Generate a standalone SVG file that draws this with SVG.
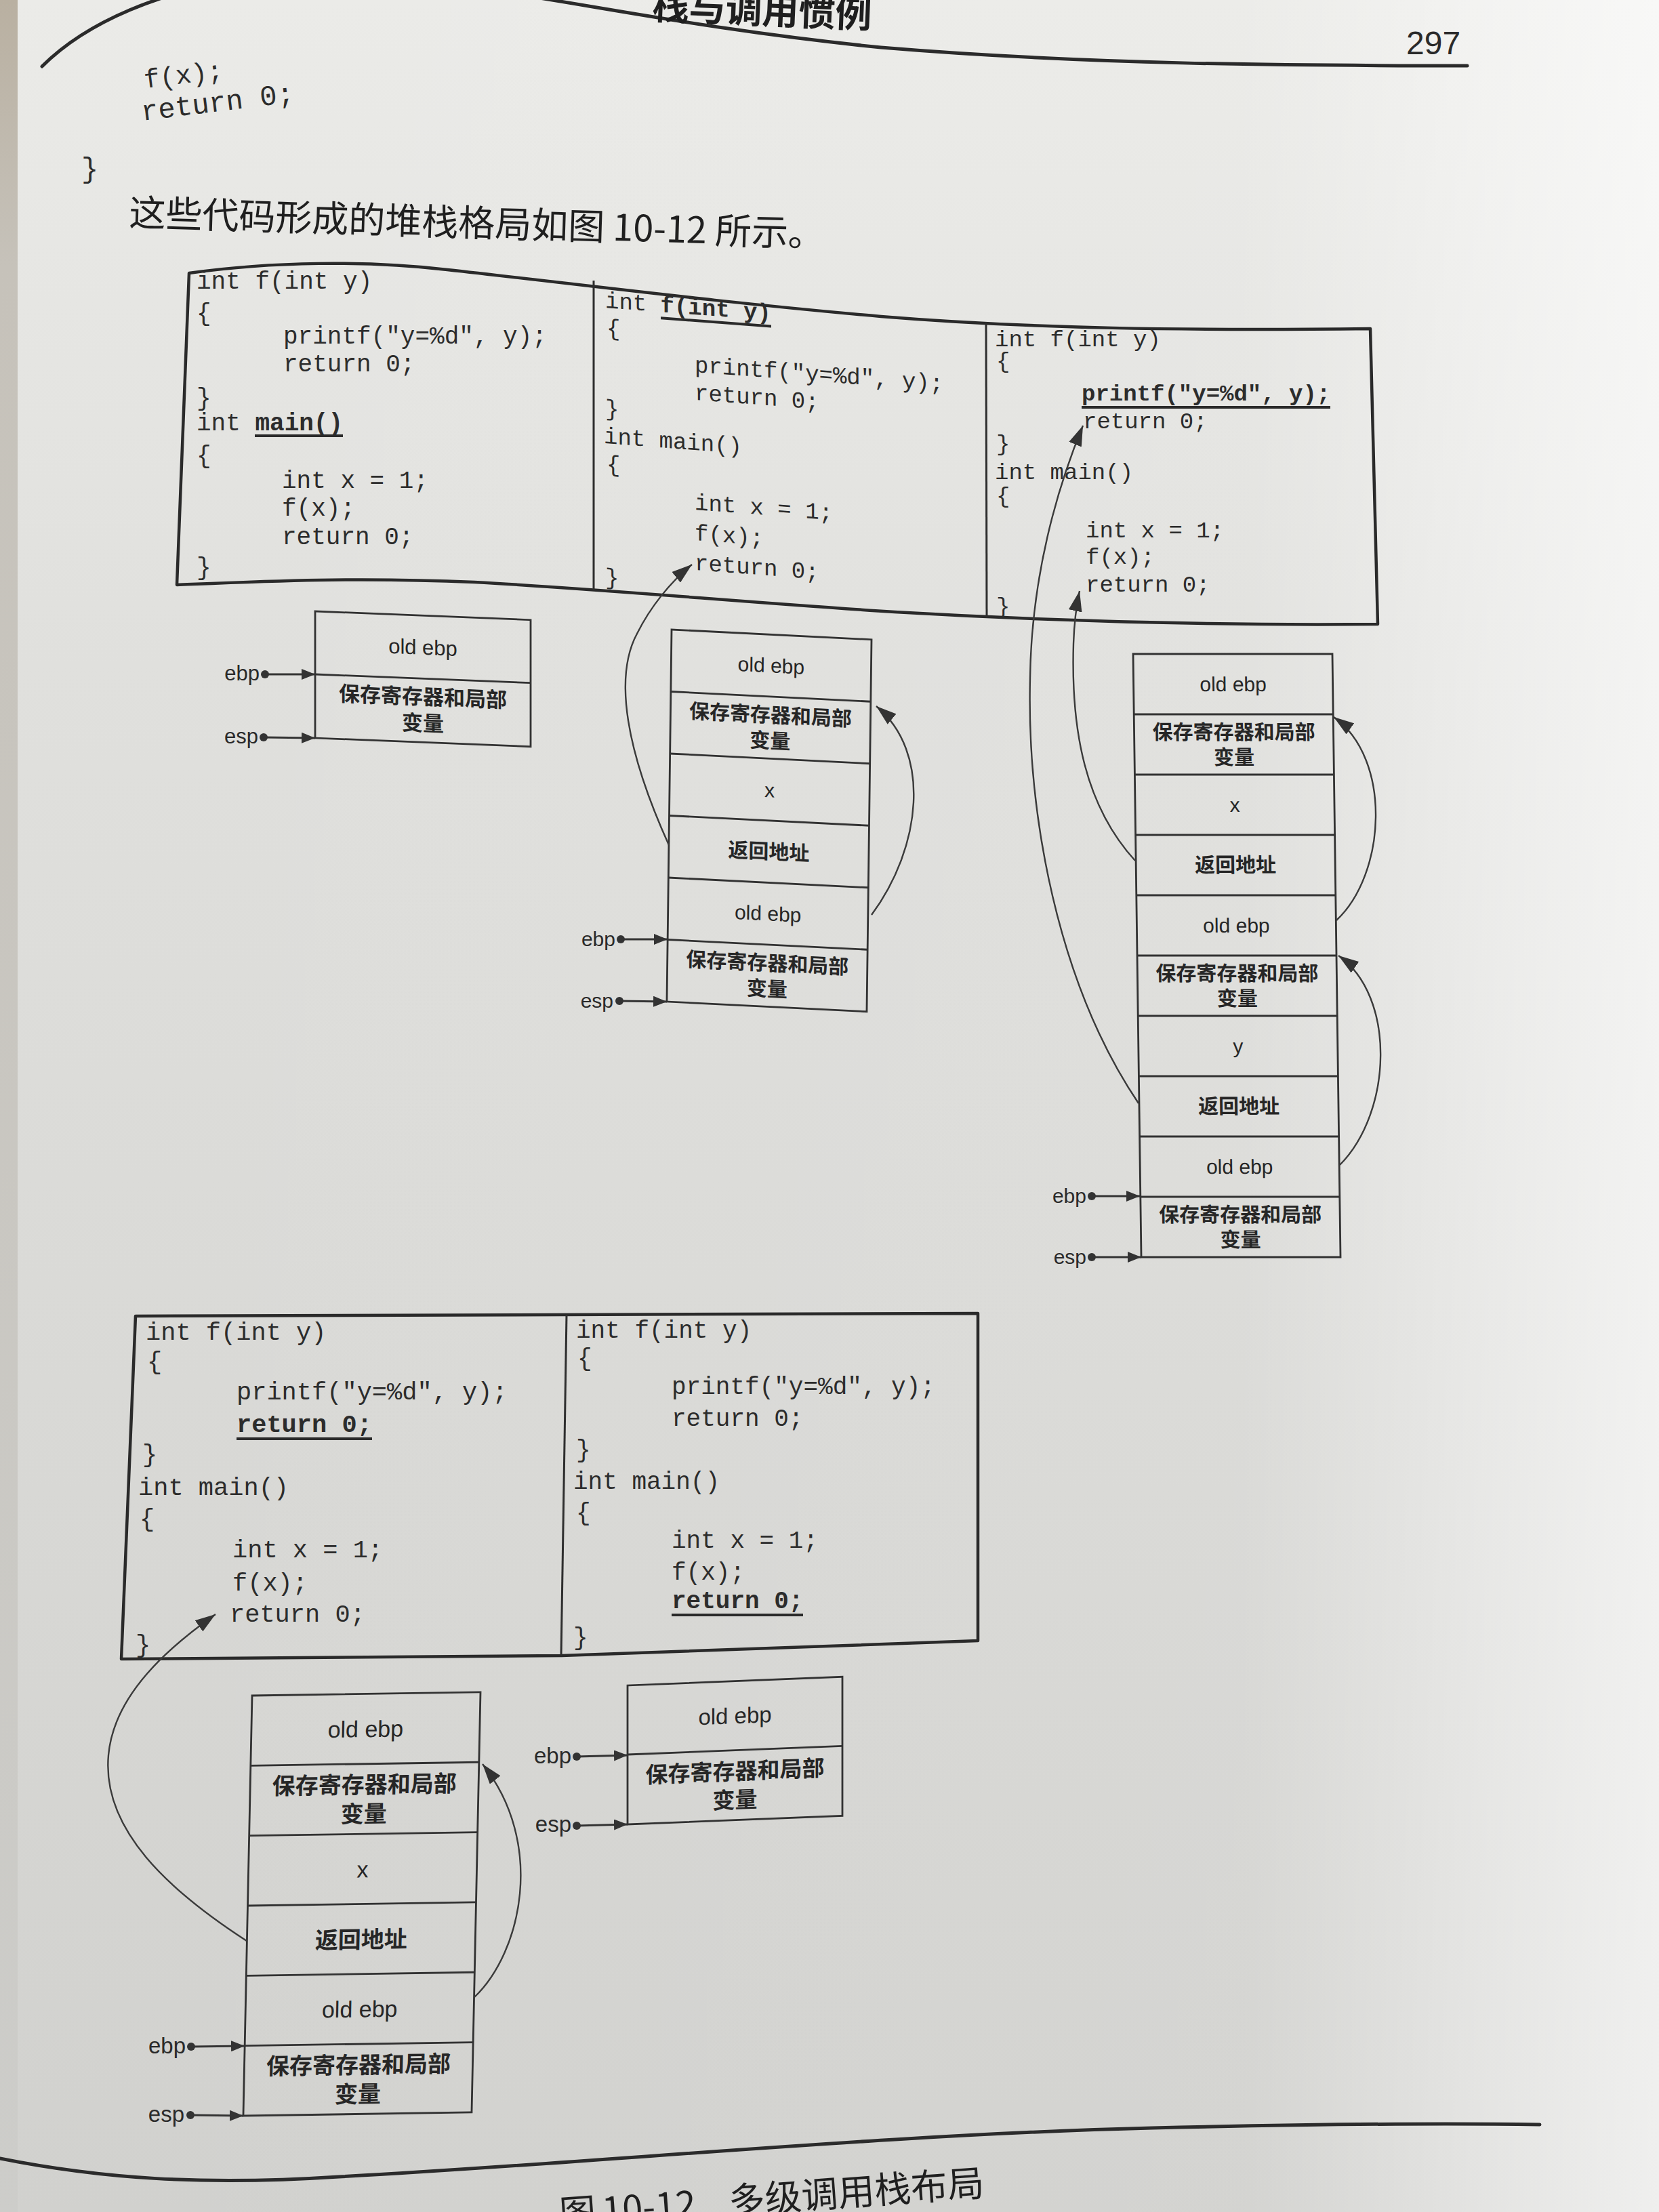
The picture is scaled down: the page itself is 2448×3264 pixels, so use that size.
<svg xmlns="http://www.w3.org/2000/svg" width="2448" height="3264" viewBox="0 0 2448 3264">
  <defs>
    <linearGradient id="paper" x1="0" y1="0" x2="0" y2="1">
      <stop offset="0" stop-color="#ebebe8"/>
      <stop offset="0.3" stop-color="#e0e0dd"/>
      <stop offset="1" stop-color="#d1d1ce"/>
    </linearGradient>
    <linearGradient id="glare" x1="0" y1="0" x2="1" y2="0">
      <stop offset="0" stop-color="#ffffff" stop-opacity="0"/>
      <stop offset="0.75" stop-color="#ffffff" stop-opacity="0.06"/>
      <stop offset="0.91" stop-color="#ffffff" stop-opacity="0.45"/>
      <stop offset="1" stop-color="#ffffff" stop-opacity="0.65"/>
    </linearGradient>
    <linearGradient id="edge" x1="0" y1="0" x2="0" y2="1">
      <stop offset="0" stop-color="#b9b0a1"/>
      <stop offset="0.12" stop-color="#c6c2ba"/>
      <stop offset="1" stop-color="#cdcdca"/>
    </linearGradient>
    <marker id="ah" viewBox="0 0 30 20" refX="30" refY="10" markerWidth="30" markerHeight="20" markerUnits="userSpaceOnUse" orient="auto">
      <path d="M0,0 L30,10 L0,20 Z" fill="#333"/>
    </marker>
    <marker id="ahs" viewBox="0 0 20 16" refX="20" refY="8" markerWidth="20" markerHeight="16" markerUnits="userSpaceOnUse" orient="auto">
      <path d="M0,0 L20,8 L0,16 Z" fill="#333"/>
    </marker>
    <style>
      .code { font-family: "Liberation Mono", "DejaVu Sans Mono", monospace; fill: #2c2c2c; }
      .b { font-weight: bold; }
      .ul { stroke: #2a2a2a; stroke-width: 4; }
      .body { font-family: "Noto Sans CJK SC", "Liberation Sans", sans-serif; fill: #1f1f1f; }
      .lbl { font-family: "Liberation Sans", "Noto Sans CJK SC", sans-serif; fill: #262626; text-anchor: middle; }
      .cjk { font-family: "Noto Sans CJK SC", sans-serif; font-weight: 700; }
      .frame { fill: none; stroke: #2a2a2a; stroke-width: 4.5; stroke-linejoin: round; }
      .rule { fill: none; stroke: #2e2e2e; stroke-width: 3; }
      .box { fill: none; stroke: #323232; stroke-width: 2.8; }
      .conn { fill: none; stroke: #3a3a3a; stroke-width: 2.4; }
      .ptr { stroke: #333; stroke-width: 2.8; }
      .dot { fill: #333; }
      .reg { font-family: "Liberation Sans", sans-serif; fill: #2a2a2a; text-anchor: end; }
      .pagerule { fill: none; stroke: #2b2b2b; stroke-width: 5; stroke-linecap: round; }
    </style>
  </defs>

  <!-- paper -->
  <rect width="2448" height="3264" fill="url(#paper)"/>
  <rect width="2448" height="3264" fill="url(#glare)"/>
  <rect x="0" y="0" width="26" height="3264" fill="url(#edge)"/>

  <!-- running head -->
  <g id="running-head">
    <path class="pagerule" d="M62,98 C 120,40 230,-20 420,-40 C 700,-40 900,30 1300,70 C 1600,95 1900,97 2165,97"/>
    <text class="body" x="962" y="28" font-size="54" font-weight="bold" transform="rotate(2.4 962 28)">栈与调用惯例</text>
    <text x="2075" y="80" font-family="Liberation Sans, sans-serif" font-size="48" fill="#2a2a2a">297</text>
  </g>

  <!-- tail of the listing and the lead-in sentence -->
  <g id="lead-in">
    <text class="code" x="214" y="130" font-size="39" transform="rotate(-7 214 130)">f(x);</text>
    <text class="code" x="210" y="178" font-size="42" transform="rotate(-7 210 178)">return 0;</text>
    <text class="code" x="120" y="262" font-size="42">}</text>
    <text class="body" x="190" y="333" font-size="54" transform="rotate(1.75 190 333)">这些代码形成的堆栈格局如图 10-12 所示。</text>
  </g>

  <!-- upper code strip: three snapshots of the program -->
  <g id="code-frame-top">
    <path class="frame" d="M279,403 C 400,386 540,384 660,398 C 860,420 1050,445 1300,467 C 1520,485 1750,488 2022,485 L 2033,921 C 1800,923 1560,917 1320,903 C 1100,889 900,870 700,859 C 520,851 380,858 261,863 Z"/>
    <path class="rule" d="M876,414 L876,871"/>
    <path class="rule" d="M1455,475 L1456,912"/>

    <g id="code-1" class="code" font-size="36">
      <text x="290" y="426">int f(int y)</text>
      <text x="290" y="473">{</text>
      <text x="418" y="507">printf("y=%d", y);</text>
      <text x="418" y="548">return 0;</text>
      <text x="290" y="598">}</text>
      <text x="290" y="635">int <tspan class="b">main()</tspan></text>
      <line class="ul" x1="376" y1="643" x2="506" y2="643"/>
      <text x="290" y="683">{</text>
      <text x="416" y="720">int x = 1;</text>
      <text x="416" y="761">f(x);</text>
      <text x="416" y="803">return 0;</text>
      <text x="290" y="848">}</text>
    </g>

    <g id="code-2" class="code" font-size="34" transform="translate(893 0) skewY(4.3) translate(-893 0)">
      <text x="893" y="454">int <tspan class="b">f(int y)</tspan></text>
      <line class="ul" x1="975" y1="463" x2="1138" y2="463"/>
      <text x="895" y="494">{</text>
      <text x="1025" y="539">printf("y=%d", y);</text>
      <text x="1025" y="580">return 0;</text>
      <text x="893" y="613">}</text>
      <text x="891" y="654">int main()</text>
      <text x="895" y="695">{</text>
      <text x="1025" y="742">int x = 1;</text>
      <text x="1025" y="787">f(x);</text>
      <text x="1025" y="831">return 0;</text>
      <text x="893" y="862">}</text>
    </g>

    <g id="code-3" class="code" font-size="34">
      <text x="1468" y="511">int f(int y)</text>
      <text x="1470" y="543">{</text>
      <text x="1596" y="591" class="b">printf("y=%d", y);</text>
      <line class="ul" x1="1596" y1="601" x2="1963" y2="601"/>
      <text x="1598" y="632">return 0;</text>
      <text x="1470" y="665">}</text>
      <text x="1468" y="707">int main()</text>
      <text x="1470" y="742">{</text>
      <text x="1602" y="793">int x = 1;</text>
      <text x="1602" y="832">f(x);</text>
      <text x="1602" y="873">return 0;</text>
      <text x="1470" y="905">}</text>
    </g>
  </g>

  <!-- lower code strip: two snapshots -->
  <g id="code-frame-bottom">
    <path class="frame" d="M200,1942 L1443,1938 L1443,2421 L829,2443 L179,2448 Z"/>
    <path class="rule" d="M836,1940 L828,2443"/>

    <g id="code-4" class="code" font-size="37">
      <text x="215" y="1977">int f(int y)</text>
      <text x="217" y="2020">{</text>
      <text x="349" y="2065">printf("y=%d", y);</text>
      <text x="349" y="2113" class="b">return 0;</text>
      <line class="ul" x1="349" y1="2123" x2="549" y2="2123"/>
      <text x="210" y="2157">}</text>
      <text x="204" y="2206">int main()</text>
      <text x="206" y="2252">{</text>
      <text x="343" y="2298">int x = 1;</text>
      <text x="343" y="2347">f(x);</text>
      <text x="339" y="2393">return 0;</text>
      <text x="200" y="2438">}</text>
    </g>

    <g id="code-5" class="code" font-size="36">
      <text x="850" y="1974">int f(int y)</text>
      <text x="852" y="2015">{</text>
      <text x="991" y="2057">printf("y=%d", y);</text>
      <text x="991" y="2104">return 0;</text>
      <text x="850" y="2150">}</text>
      <text x="846" y="2197">int main()</text>
      <text x="850" y="2243">{</text>
      <text x="991" y="2284">int x = 1;</text>
      <text x="991" y="2331">f(x);</text>
      <text x="991" y="2373" class="b">return 0;</text>
      <line class="ul" x1="991" y1="2383" x2="1185" y2="2383"/>
      <text x="846" y="2427">}</text>
    </g>
  </g>

  <!-- stack frames -->
  <g id="stack-a" font-size="31" transform="matrix(1 0.04 0 1 465 902)">
    <rect class="box" width="318" height="187"/>
    <line class="box" x1="0" y1="93" x2="318" y2="93"/>
    <text class="lbl" x="159" y="57.5">old ebp</text>
    <text class="lbl cjk" x="159" y="131">保存寄存器和局部</text>
    <text class="lbl cjk" x="159" y="170">变量</text>
  </g>

  <g id="stack-b" font-size="30" transform="matrix(1 0.05 -0.0128 1 991 929)">
    <rect class="box" width="295" height="549"/>
    <line class="box" x1="0" y1="91.5" x2="295" y2="91.5"/>
    <line class="box" x1="0" y1="183" x2="295" y2="183"/>
    <line class="box" x1="0" y1="274.5" x2="295" y2="274.5"/>
    <line class="box" x1="0" y1="366" x2="295" y2="366"/>
    <line class="box" x1="0" y1="457.5" x2="295" y2="457.5"/>
    <text class="lbl" x="147.5" y="56">old ebp</text>
    <text class="lbl cjk" x="147.5" y="129.5">保存寄存器和局部</text>
    <text class="lbl cjk" x="147.5" y="167.5">变量</text>
    <text class="lbl" x="147.5" y="240">x</text>
    <text class="lbl cjk" x="147.5" y="331">返回地址</text>
    <text class="lbl" x="147.5" y="422">old ebp</text>
    <text class="lbl cjk" x="147.5" y="495.5">保存寄存器和局部</text>
    <text class="lbl cjk" x="147.5" y="533.5">变量</text>
  </g>

  <g id="stack-c" font-size="30" transform="matrix(1 0 0.0135 1 1672 965)">
    <rect class="box" width="294" height="890"/>
    <line class="box" x1="0" y1="89" x2="294" y2="89"/>
    <line class="box" x1="0" y1="178" x2="294" y2="178"/>
    <line class="box" x1="0" y1="267" x2="294" y2="267"/>
    <line class="box" x1="0" y1="356" x2="294" y2="356"/>
    <line class="box" x1="0" y1="445" x2="294" y2="445"/>
    <line class="box" x1="0" y1="534" x2="294" y2="534"/>
    <line class="box" x1="0" y1="623" x2="294" y2="623"/>
    <line class="box" x1="0" y1="712" x2="294" y2="712"/>
    <line class="box" x1="0" y1="801" x2="294" y2="801"/>
    <text class="lbl" x="147" y="55">old ebp</text>
    <text class="lbl cjk" x="147" y="126">保存寄存器和局部</text>
    <text class="lbl cjk" x="147" y="163">变量</text>
    <text class="lbl" x="147" y="233.5">x</text>
    <text class="lbl cjk" x="147" y="322.5">返回地址</text>
    <text class="lbl" x="147" y="411">old ebp</text>
    <text class="lbl cjk" x="147" y="482">保存寄存器和局部</text>
    <text class="lbl cjk" x="147" y="519">变量</text>
    <text class="lbl" x="147" y="589.5">y</text>
    <text class="lbl cjk" x="147" y="678.5">返回地址</text>
    <text class="lbl" x="147" y="767">old ebp</text>
    <text class="lbl cjk" x="147" y="838">保存寄存器和局部</text>
    <text class="lbl cjk" x="147" y="875">变量</text>
  </g>

  <g id="stack-d" font-size="34" transform="matrix(1 -0.015 -0.021 1 372 2502)">
    <rect class="box" width="337" height="620"/>
    <line class="box" x1="0" y1="103.3" x2="337" y2="103.3"/>
    <line class="box" x1="0" y1="206.7" x2="337" y2="206.7"/>
    <line class="box" x1="0" y1="310" x2="337" y2="310"/>
    <line class="box" x1="0" y1="413.3" x2="337" y2="413.3"/>
    <line class="box" x1="0" y1="516.7" x2="337" y2="516.7"/>
    <text class="lbl" x="168.5" y="63.7">old ebp</text>
    <text class="lbl cjk" x="168.5" y="146.3">保存寄存器和局部</text>
    <text class="lbl cjk" x="168.5" y="189.3">变量</text>
    <text class="lbl" x="168.5" y="270.9">x</text>
    <text class="lbl cjk" x="168.5" y="374.7">返回地址</text>
    <text class="lbl" x="168.5" y="477">old ebp</text>
    <text class="lbl cjk" x="168.5" y="559.7">保存寄存器和局部</text>
    <text class="lbl cjk" x="168.5" y="602.7">变量</text>
  </g>

  <g id="stack-e" font-size="33" transform="matrix(1 -0.04 0 1 926 2487)">
    <rect class="box" width="317" height="205"/>
    <line class="box" x1="0" y1="102" x2="317" y2="102"/>
    <text class="lbl" x="158.5" y="62.5">old ebp</text>
    <text class="lbl cjk" x="158.5" y="145">保存寄存器和局部</text>
    <text class="lbl cjk" x="158.5" y="187">变量</text>
  </g>

  <!-- register pointers -->
  <g id="pointers">
    <text class="reg" x="383" y="1004" font-size="31">ebp</text>
    <circle class="dot" cx="391" cy="995" r="6"/>
    <line class="ptr" x1="391" y1="995" x2="465" y2="995" marker-end="url(#ahs)"/>
    <text class="reg" x="381" y="1097" font-size="31">esp</text>
    <circle class="dot" cx="389" cy="1088" r="6"/>
    <line class="ptr" x1="389" y1="1088" x2="465" y2="1089" marker-end="url(#ahs)"/>

    <text class="reg" x="908" y="1396" font-size="30">ebp</text>
    <circle class="dot" cx="916" cy="1386" r="6"/>
    <line class="ptr" x1="916" y1="1386" x2="985" y2="1386" marker-end="url(#ahs)"/>
    <text class="reg" x="905" y="1487" font-size="30">esp</text>
    <circle class="dot" cx="914" cy="1477" r="6"/>
    <line class="ptr" x1="914" y1="1477" x2="984" y2="1478" marker-end="url(#ahs)"/>

    <text class="reg" x="1603" y="1775" font-size="30">ebp</text>
    <circle class="dot" cx="1611" cy="1765" r="6"/>
    <line class="ptr" x1="1611" y1="1765" x2="1682" y2="1765" marker-end="url(#ahs)"/>
    <text class="reg" x="1603" y="1865" font-size="30">esp</text>
    <circle class="dot" cx="1611" cy="1855" r="6"/>
    <line class="ptr" x1="1611" y1="1855" x2="1684" y2="1855" marker-end="url(#ahs)"/>

    <text class="reg" x="274" y="3030" font-size="33">ebp</text>
    <circle class="dot" cx="282" cy="3020" r="6"/>
    <line class="ptr" x1="282" y1="3020" x2="361" y2="3019" marker-end="url(#ahs)"/>
    <text class="reg" x="272" y="3131" font-size="33">esp</text>
    <circle class="dot" cx="281" cy="3121" r="6"/>
    <line class="ptr" x1="281" y1="3121" x2="359" y2="3122" marker-end="url(#ahs)"/>

    <text class="reg" x="843" y="2602" font-size="33">ebp</text>
    <circle class="dot" cx="851" cy="2592" r="6"/>
    <line class="ptr" x1="851" y1="2592" x2="926" y2="2590" marker-end="url(#ahs)"/>
    <text class="reg" x="843" y="2703" font-size="33">esp</text>
    <circle class="dot" cx="851" cy="2694" r="6"/>
    <line class="ptr" x1="851" y1="2694" x2="926" y2="2692" marker-end="url(#ahs)"/>
  </g>

  <!-- return-address and saved-ebp links -->
  <g id="connectors">
    <path class="conn" d="M987,1247 C 925,1110 905,1000 940,935 C 960,895 990,858 1021,833" marker-end="url(#ah)"/>
    <path class="conn" d="M1286,1350 C 1360,1250 1375,1110 1293,1042" marker-end="url(#ah)"/>

    <path class="conn" d="M1675,1270 C 1602,1190 1580,1080 1584,950 C 1585,920 1588,895 1593,872" marker-end="url(#ah)"/>
    <path class="conn" d="M1680,1628 C 1560,1450 1515,1200 1520,1000 C 1522,850 1560,720 1598,628" marker-end="url(#ah)"/>
    <path class="conn" d="M1972,1358 C 2045,1290 2055,1120 1968,1058" marker-end="url(#ah)"/>
    <path class="conn" d="M1977,1719 C 2055,1640 2060,1470 1975,1410" marker-end="url(#ah)"/>

    <path class="conn" d="M364,2864 C 250,2790 150,2700 160,2590 C 168,2500 250,2430 318,2382" marker-end="url(#ah)"/>
    <path class="conn" d="M700,2947 C 770,2880 805,2720 712,2603" marker-end="url(#ah)"/>
  </g>

  <!-- caption -->
  <g id="caption">
    <path class="pagerule" d="M0,3185 C 150,3215 300,3225 500,3212 C 900,3190 1300,3150 1700,3140 C 1950,3134 2150,3133 2272,3135"/>
    <text class="body" x="827" y="3286" font-size="54" transform="rotate(-4.2 827 3286)"><tspan x="827">图</tspan><tspan x="890">10-12</tspan><tspan x="1077">多级调用栈布局</tspan></text>
  </g>
</svg>
